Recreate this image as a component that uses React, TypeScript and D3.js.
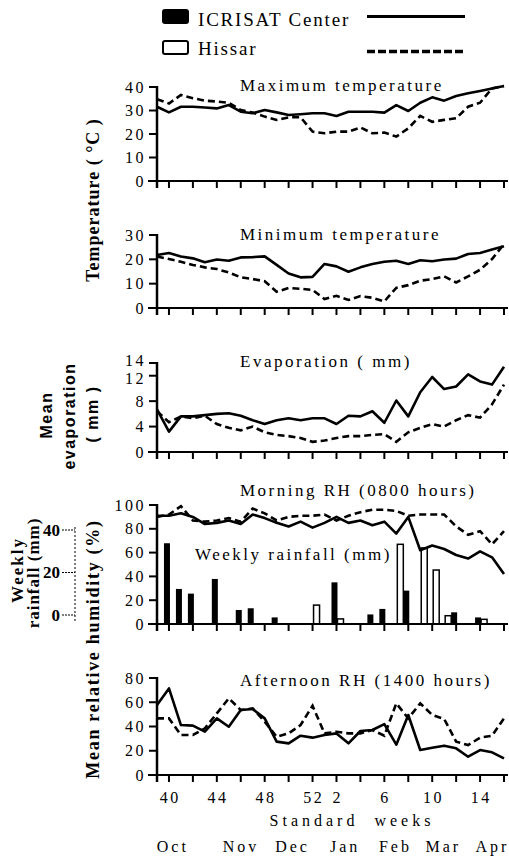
import React from 'react';
import * as d3 from 'd3';

// Standard weeks (Oct -> Apr)
const weeks = [39, 40, 41, 42, 43, 44, 45, 46, 47, 48, 49, 50, 51, 52, 1, 2, 3, 4, 5, 6, 7, 8, 9, 10, 11, 12, 13, 14, 15, 16];
const weekTickLabels = [40, 44, 48, 52, 2, 6, 10, 14];
const months = ['Oct', 'Nov', 'Dec', 'Jan', 'Feb', 'Mar', 'Apr'];
const monthWeekIndex = [1.2, 6.9, 11.2, 15.6, 19.8, 23.8, 27.9];

const maxTempICRISAT = [31.6, 29.2, 31.6, 31.6, 31.3, 30.9, 32.3, 29.5, 28.8, 30.2, 29.2, 28.1, 28.4, 28.8, 28.8, 27.7, 29.5, 29.5, 29.5, 29.1, 32.3, 29.8, 33.3, 35.6, 34.2, 36.2, 37.3, 38.3, 39.4, 40.4];
const maxTempHissar = [34.8, 33.0, 36.6, 35.2, 34.2, 33.8, 33.3, 30.2, 29.1, 27.4, 26.0, 27.1, 27.1, 21.0, 20.3, 21.0, 21.0, 22.8, 20.3, 20.6, 18.9, 22.4, 27.7, 25.2, 26.0, 26.7, 31.6, 33.3, 39.4, 40.4];

const minTempICRISAT = [21.8, 22.6, 21.2, 20.4, 18.8, 19.9, 19.4, 20.8, 20.9, 21.2, 17.7, 14.2, 12.6, 12.8, 18.1, 17.1, 14.9, 16.7, 18.1, 19.0, 19.4, 18.1, 19.6, 19.2, 19.9, 20.3, 22.2, 22.6, 24.0, 25.4];
const minTempHissar = [21.2, 20.1, 19.0, 17.7, 16.7, 16.0, 14.6, 12.6, 11.9, 11.0, 6.7, 8.2, 7.9, 7.4, 3.7, 5.0, 3.3, 4.9, 4.2, 2.7, 8.3, 9.4, 11.2, 11.9, 13.0, 10.5, 13.0, 15.7, 20.1, 26.3];

const evapICRISAT = [6.7, 3.2, 5.6, 5.6, 5.8, 6.0, 6.1, 5.7, 5.0, 4.4, 5.0, 5.3, 5.0, 5.3, 5.3, 4.4, 5.7, 5.6, 6.4, 4.6, 8.1, 5.6, 9.4, 11.8, 9.9, 10.3, 12.2, 11.1, 10.6, 13.4];
const evapHissar = [6.4, 4.7, 5.6, 5.3, 5.7, 4.4, 3.8, 3.4, 4.0, 3.1, 2.7, 2.5, 2.2, 1.6, 1.8, 2.2, 2.5, 2.5, 2.7, 2.8, 1.6, 3.1, 3.8, 4.4, 4.0, 5.0, 5.8, 5.4, 7.5, 10.6];

const morningRHICRISAT = [91, 91, 93, 90, 84, 85, 87, 84, 92, 89, 85, 82, 86, 81, 85, 90, 85, 87, 83, 86, 76, 90, 62, 66, 63, 58, 55, 61, 56, 42];
const morningRHHissar = [90, 92, 99, 87, 86, 87, 89, 86, 97, 93, 87, 90, 91, 91, 92, 87, 91, 94, 96, 96, 95, 91, 92, 92, 92, 82, 75, 78, 67, 78];

const afternoonRHICRISAT = [57.7, 71.4, 41.2, 40.7, 35.7, 46.7, 39.8, 53.6, 54.4, 46.7, 27.5, 26.1, 32.4, 30.8, 33.0, 34.3, 26.1, 36.3, 37.1, 42.0, 25.0, 49.5, 20.6, 22.5, 24.2, 22.0, 15.1, 20.6, 18.7, 13.7];
const afternoonRHHissar = [46.7, 46.7, 33.0, 33.0, 38.5, 50.8, 63.2, 53.6, 54.9, 44.0, 31.6, 34.3, 41.2, 57.1, 34.3, 35.7, 34.3, 34.3, 37.1, 32.4, 59.1, 46.7, 59.1, 49.5, 46.2, 27.5, 24.7, 30.8, 32.4, 46.7];

// Weekly rainfall (mm)
const rainICRISAT = [0, 38.0, 16.5, 14.3, 0, 21.2, 0, 6.6, 7.4, 0, 3.1, 0, 0, 0, 0, 19.6, 0, 0, 4.5, 7.1, 0, 15.7, 0, 0, 0, 5.5, 0, 3.1, 0, 0];
const rainHissar = [0, 0, 0, 0, 0, 0, 0, 0, 0, 0, 0, 0, 0, 8.9, 0, 2.4, 0, 0, 0, 0, 37.5, 0, 35.8, 25.4, 3.9, 0, 0, 2.2, 0, 0];
const rainTicks = [0, 20, 40];

const sites = ['ICRISAT Center', 'Hissar'];

const panels = [
  { title: 'Maximum temperature', domain: [0, 40], range: [181, 87], ticks: [0, 10, 20, 30, 40], titleY: 91, a: maxTempICRISAT, b: maxTempHissar },
  { title: 'Minimum temperature', domain: [0, 30], range: [308, 235], ticks: [0, 10, 20, 30], titleY: 240, a: minTempICRISAT, b: minTempHissar },
  { title: 'Evaporation ( mm)', domain: [0, 14], range: [452, 363], ticks: [0, 4, 8, 12, 14], titleY: 367, a: evapICRISAT, b: evapHissar },
  { title: 'Morning RH (0800 hours)', domain: [0, 100], range: [624, 505], ticks: [0, 20, 40, 60, 80, 100], titleY: 496, a: morningRHICRISAT, b: morningRHHissar },
  { title: 'Afternoon RH (1400 hours)', domain: [0, 80], range: [775, 678], ticks: [0, 20, 40, 60, 80], titleY: 686, a: afternoonRHICRISAT, b: afternoonRHHissar },
];

const SERIF = '"Liberation Serif", "Times New Roman", serif';
const SANS = '"Liberation Sans", Arial, sans-serif';

export default function App() {
  const x = d3.scaleLinear().domain([0, weeks.length - 1]).range([157, 504]);
  const axisLeft = x.range()[0];
  const xEnd = 508;
  const rainY = d3.scaleLinear().domain([0, 40]).range([624, 539]);
  const siteBand = d3.scaleBand<string>().domain(sites).range([-5, 7]);
  const tickIdx = weeks.map((_, i) => i).filter((i) => i % 2 === 1);

  return (
    <svg width={509} height={860} style={{ position: 'absolute', left: 0, top: 0, background: '#fff' }}>
      {/* Legend */}
      <g>
        <rect x={162} y={9} width={27} height={15} rx={3} fill="#000" />
        <text x={198} y={26} fontFamily={SERIF} fontSize={19} letterSpacing={1.8}>{sites[0]}</text>
        <line x1={367} x2={465} y1={16.5} y2={16.5} stroke="#000" strokeWidth={3} />
        <rect x={163} y={41} width={25} height={13} rx={2} fill="#fff" stroke="#000" strokeWidth={2} />
        <text x={198} y={55} fontFamily={SERIF} fontSize={19} letterSpacing={1.8}>{sites[1]}</text>
        <line x1={367} x2={465} y1={51.5} y2={51.5} stroke="#000" strokeWidth={3.5} strokeDasharray="8,3" />
      </g>

      {panels.map((p, pi) => {
        const y = d3.scaleLinear().domain(p.domain).range(p.range);
        const y0 = y(0);
        const line = d3.line<number>().x((_, i) => x(i)).y((d) => y(d));
        const top = p.ticks[p.ticks.length - 1];
        const crowded = y(p.ticks[p.ticks.length - 2]) - y(top) < 16;
        return (
          <g key={pi}>
            <text x={240} y={p.titleY} fontFamily={SERIF} fontSize={17} letterSpacing={2.5}>{p.title}</text>
            {pi === 3 && (
              <g>
                <text x={195} y={560} fontFamily={SERIF} fontSize={17} letterSpacing={2.5}>Weekly rainfall (mm)</text>
                {rainICRISAT.map((v, i) => v > 0 ? (
                  <rect key={'a' + i} x={x(i) + (siteBand(sites[0]) as number)} y={rainY(v)} width={siteBand.bandwidth()} height={rainY(0) - rainY(v)} fill="#000" />
                ) : null)}
                {rainHissar.map((v, i) => v > 0 ? (
                  <rect key={'b' + i} x={x(i) + (siteBand(sites[1]) as number)} y={rainY(v)} width={siteBand.bandwidth()} height={rainY(0) - rainY(v)} fill="#fff" stroke="#000" strokeWidth={1.5} />
                ) : null)}
              </g>
            )}
            <path d={line(p.a) || ''} fill="none" stroke="#000" strokeWidth={2.6} strokeLinejoin="round" />
            <path d={line(p.b) || ''} fill="none" stroke="#000" strokeWidth={2.6} strokeDasharray="7,4" />
            {/* axes */}
            <line x1={axisLeft} x2={axisLeft} y1={p.range[1] - 1} y2={y0 + 7} stroke="#000" strokeWidth={2.5} />
            <line x1={148} x2={xEnd} y1={y0} y2={y0} stroke="#000" strokeWidth={2} />
            {p.ticks.map((t, ti) => {
              let shift = 0;
              if (crowded && ti === p.ticks.length - 1) shift = -3;
              if (crowded && ti === p.ticks.length - 2) shift = 3;
              return (
                <g key={t}>
                  <line x1={149} x2={axisLeft} y1={y(t)} y2={y(t)} stroke="#000" strokeWidth={2} />
                  <text x={146} y={y(t) + shift} dy="0.35em" textAnchor="end" fontFamily={SERIF} fontSize={16} letterSpacing={2.5}>{t}</text>
                </g>
              );
            })}
            {tickIdx.map((i) => (
              <line key={i} x1={x(i)} x2={x(i)} y1={y0} y2={y0 + 7} stroke="#000" strokeWidth={2} />
            ))}
          </g>
        );
      })}

      {/* secondary rainfall axis */}
      <g transform="translate(0,-9)">
        <line x1={75} x2={75} y1={rainY(40) - 3} y2={rainY(0) + 7} stroke="#000" strokeWidth={1} strokeDasharray="2,2" />
        {rainTicks.map((t) => (
          <g key={t}>
            <line x1={62} x2={75} y1={rainY(t)} y2={rainY(t)} stroke="#000" strokeWidth={1} strokeDasharray="2,1" />
            <text x={60} y={rainY(t)} dy="0.35em" textAnchor="end" fontFamily={SERIF} fontWeight="bold" fontSize={17}>{t}</text>
          </g>
        ))}
      </g>

      {/* x tick labels */}
      {weekTickLabels.map((w) => (
        <text key={w} x={x(weeks.indexOf(w)) + 1.2} y={803} textAnchor="middle" fontFamily={SERIF} fontSize={16} letterSpacing={2.5}>{w}</text>
      ))}
      <text x={352} y={826} textAnchor="middle" fontFamily={SERIF} fontSize={16} letterSpacing={4} style={{ whiteSpace: 'pre' }}>{'Standard  weeks'}</text>
      {months.map((m, i) => (
        <text key={m} x={x(monthWeekIndex[i]) + 1.5} y={852} textAnchor="middle" fontFamily={SERIF} fontSize={16} letterSpacing={3}>{m}</text>
      ))}

      {/* y axis titles */}
      <text transform="translate(99,200) rotate(-90)" textAnchor="middle" fontFamily={SERIF} fontWeight="bold" fontSize={18} letterSpacing={1}>Temperature ( °C )</text>
      <text transform="translate(52,415) rotate(-90)" textAnchor="middle" fontFamily={SANS} fontWeight="bold" fontSize={16} letterSpacing={1.5}>Mean</text>
      <text transform="translate(75,416) rotate(-90)" textAnchor="middle" fontFamily={SANS} fontWeight="bold" fontSize={16} letterSpacing={1.5}>evaporation</text>
      <text transform="translate(98,414) rotate(-90)" textAnchor="middle" fontFamily={SANS} fontWeight="bold" fontSize={16} letterSpacing={1.5}>( mm )</text>
      <text transform="translate(99,649) rotate(-90)" textAnchor="middle" fontFamily={SERIF} fontWeight="bold" fontSize={18} letterSpacing={1.7}>Mean relative humidity (%)</text>
      <text transform="translate(23,570) rotate(-90)" textAnchor="middle" fontFamily={SERIF} fontWeight="bold" fontSize={17} letterSpacing={2}>Weekly</text>
      <text transform="translate(39,573) rotate(-90)" textAnchor="middle" fontFamily={SERIF} fontWeight="bold" fontSize={17} letterSpacing={1}>rainfall (mm)</text>
    </svg>
  );
}
